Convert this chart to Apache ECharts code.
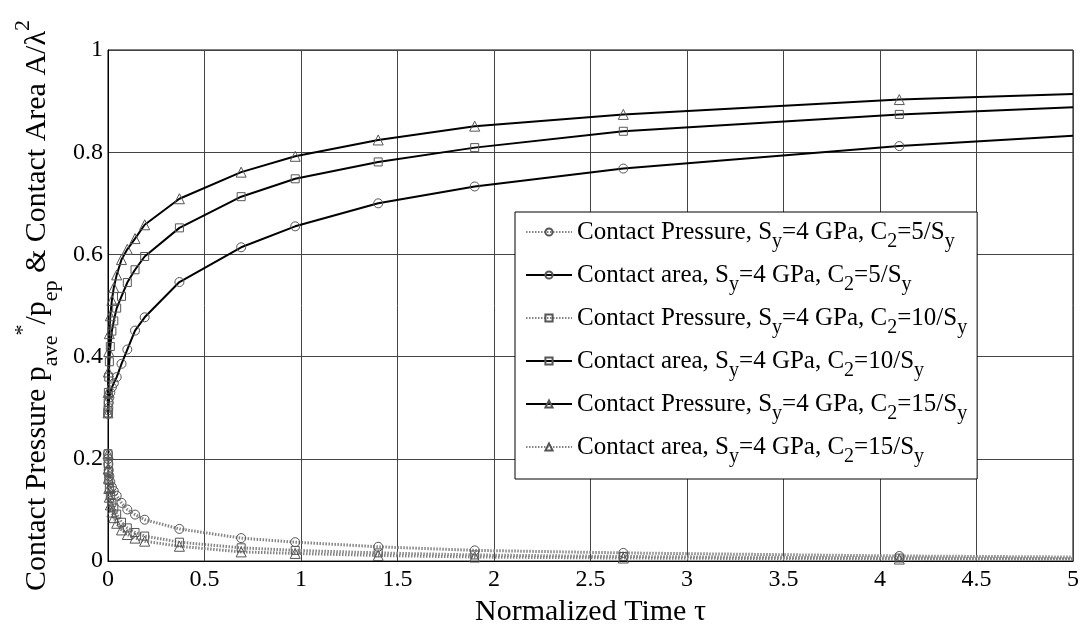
<!DOCTYPE html>
<html lang="en">
<head>
    <meta charset="UTF-8">
    <title>Contact Pressure and Contact Area</title>
    <script src="https://cdn.jsdelivr.net/npm/echarts/dist/echarts.min.js"></script>
    <style>
        html, body {
            margin: 0;
            padding: 0;
            background: #fff;
        }
    </style>
</head>
<body>
<div id="main" style="width:1082px;height:632px;"></div>
<script>
    // normalized time (shared by all curves)
    var times = [0, 0.001, 0.002, 0.004, 0.007, 0.012, 0.02, 0.03, 0.045, 0.07, 0.1, 0.14, 0.19,
        0.37, 0.69, 0.97, 1.4, 1.9, 2.67, 4.1, 5];

    // contact area A/lambda^2
    var areaC5 = [0.288, 0.295, 0.300, 0.310, 0.320, 0.330, 0.340, 0.348, 0.360, 0.386, 0.414, 0.451, 0.477,
        0.546, 0.614, 0.655, 0.700, 0.733, 0.768, 0.812, 0.832];
    var areaC10 = [0.290, 0.310, 0.330, 0.360, 0.390, 0.420, 0.450, 0.470, 0.495, 0.518, 0.545, 0.570, 0.596,
        0.652, 0.713, 0.748, 0.781, 0.809, 0.841, 0.874, 0.888];
    var areaC15 = [0.290, 0.330, 0.370, 0.410, 0.445, 0.480, 0.510, 0.535, 0.560, 0.590, 0.610, 0.631, 0.658,
        0.709, 0.761, 0.792, 0.824, 0.851, 0.874, 0.903, 0.914];

    // contact pressure p_ave/p_ep
    var pressC5 = [0.210, 0.200, 0.190, 0.178, 0.166, 0.155, 0.145, 0.137, 0.128, 0.114, 0.101, 0.091, 0.081,
        0.063, 0.045, 0.037, 0.028, 0.021, 0.016, 0.010, 0.008];
    var pressC10 = [0.210, 0.190, 0.175, 0.158, 0.142, 0.128, 0.115, 0.104, 0.092, 0.076, 0.065, 0.056, 0.049,
        0.037, 0.026, 0.021, 0.016, 0.012, 0.009, 0.006, 0.005];
    var pressC15 = [0.210, 0.180, 0.162, 0.142, 0.125, 0.110, 0.096, 0.085, 0.074, 0.061, 0.052, 0.045, 0.039,
        0.029, 0.018, 0.015, 0.011, 0.008, 0.006, 0.004, 0.003];

    var xTicks = [0, 5, 0.5];   // min, max, interval
    var yTicks = [0, 1, 0.2];

    var FONT = 'Liberation Serif';

    function toPoints(values) {
        return times.map(function (t, i) {
            // no marker on the last point at the right edge
            if (i === times.length - 1) {
                return {value: [t, values[i]], symbol: 'none'};
            }
            return [t, values[i]];
        });
    }

    function makeSeries(name, values, symbol, size, dotted) {
        return {
            name: name,
            type: 'line',
            data: toPoints(values),
            symbol: symbol,
            symbolSize: size,
            lineStyle: dotted
                ? {color: '#858585', width: 3, type: [1.5, 1.5]}
                : {color: '#000', width: 2, type: 'solid'},
            itemStyle: {
                color: 'rgba(255,255,255,0)',
                borderColor: '#555',
                borderWidth: 1
            },
            z: dotted ? 2 : 3
        };
    }

    // legend labels follow the original figure
    var series = [
        makeSeries('Contact Pressure, Sy=4 GPa, C2=5/Sy', pressC5, 'circle', 9, true),
        makeSeries('Contact area, Sy=4 GPa, C2=5/Sy', areaC5, 'circle', 9, false),
        makeSeries('Contact Pressure, Sy=4 GPa, C2=10/Sy', pressC10, 'rect', 8, true),
        makeSeries('Contact area, Sy=4 GPa, C2=10/Sy', areaC10, 'rect', 8, false),
        makeSeries('Contact Pressure, Sy=4 GPa, C2=15/Sy', areaC15, 'triangle', 10, false),
        makeSeries('Contact area, Sy=4 GPa, C2=15/Sy', pressC15, 'triangle', 10, true)
    ];

    var myChart = echarts.init(document.getElementById('main'), null, {renderer: 'canvas'});

    myChart.setOption({
        animation: false,
        backgroundColor: '#fff',
        grid: {
            left: 108,
            right: 9,
            top: 50,
            bottom: 67,
            show: true,
            borderColor: '#000',
            borderWidth: 1
        },
        legend: {
            orient: 'vertical',
            left: 515,
            top: 212,
            itemWidth: 46,
            itemHeight: 9,
            itemGap: 3,
            padding: [0, 10, 12, 10],
            borderColor: '#000',
            borderWidth: 1,
            borderRadius: 0,
            backgroundColor: '#fff',
            selectedMode: false,
            data: series.map(function (s) { return s.name; }),
            formatter: function (name) {
                return name.replace(/Sy/g, 'S{sub|y}').replace(/C2/g, 'C{sub|2}');
            },
            textStyle: {
                fontFamily: FONT,
                fontSize: 25,
                color: '#000',
                lineHeight: 40,
                rich: {
                    sub: {fontFamily: FONT, fontSize: 20, lineHeight: 20, verticalAlign: 'bottom', color: '#000'}
                }
            }
        },
        xAxis: {
            type: 'value',
            min: xTicks[0],
            max: xTicks[1],
            interval: xTicks[2],
            name: 'Normalized Time τ',
            nameLocation: 'middle',
            nameGap: 30,
            nameTextStyle: {fontFamily: FONT, fontSize: 30, color: '#000'},
            axisLine: {show: true, lineStyle: {color: '#000', width: 1}},
            axisTick: {show: false},
            axisLabel: {fontFamily: FONT, fontSize: 24, color: '#000', margin: 7},
            splitLine: {show: true, lineStyle: {color: '#444', width: 1}}
        },
        yAxis: {
            type: 'value',
            min: yTicks[0],
            max: yTicks[1],
            interval: yTicks[2],
            name: 'Contact Pressure p{sub|ave}{sup|*}/p{sub|ep} & Contact Area A/λ{sup|2}',
            nameLocation: 'middle',
            nameGap: 46,
            nameTextStyle: {
                fontFamily: FONT,
                fontSize: 30,
                color: '#000',
                lineHeight: 50,
                rich: {
                    sub: {fontFamily: FONT, fontSize: 22, lineHeight: 22, verticalAlign: 'bottom', color: '#000'},
                    sup: {fontFamily: FONT, fontSize: 22, lineHeight: 22, verticalAlign: 'top', color: '#000'}
                }
            },
            axisLine: {show: true, lineStyle: {color: '#000', width: 1}},
            axisTick: {show: false},
            axisLabel: {fontFamily: FONT, fontSize: 24, color: '#000', margin: 5},
            splitLine: {show: true, lineStyle: {color: '#444', width: 1}}
        },
        series: series
    });
</script>
</body>
</html>
